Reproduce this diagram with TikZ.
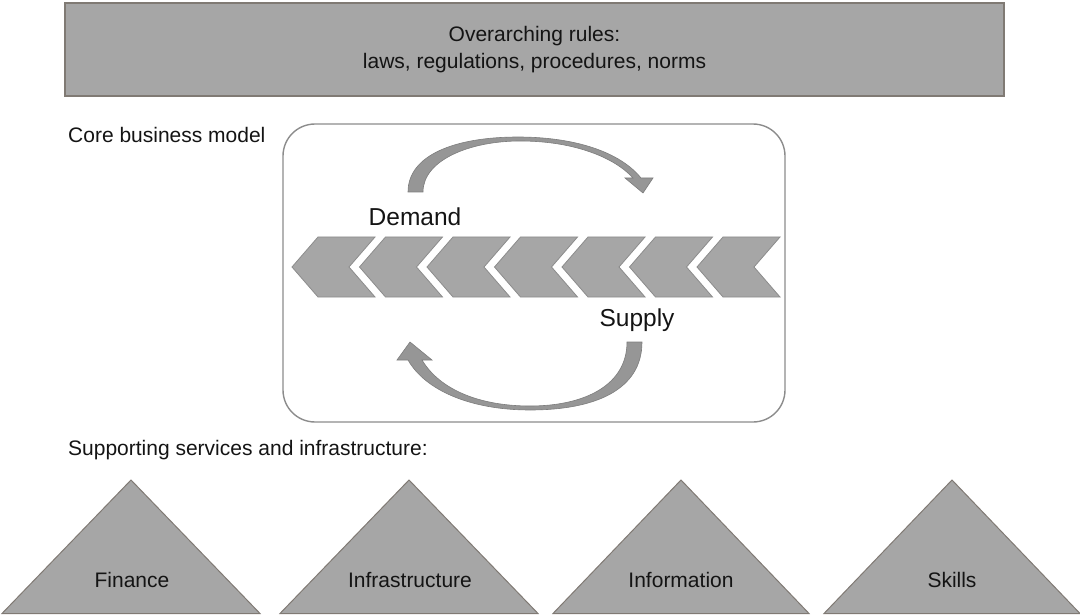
\documentclass[tikz,border=0pt]{standalone}
\usepackage{fontspec}
\setmainfont{Liberation Sans}
\definecolor{shapefill}{RGB}{166,166,166}
\definecolor{shapeedge}{RGB}{128,122,116}
\definecolor{boxedge}{RGB}{140,140,140}
\definecolor{arrowfill}{RGB}{150,150,150}
\definecolor{arrowedge}{RGB}{125,125,125}
\definecolor{txt}{RGB}{20,20,20}
\tikzset{
  graybox/.style={fill=shapefill, draw=shapeedge, line width=1.2pt},
  chev/.style={fill=shapefill, draw=boxedge, line width=0.8pt},
  tri/.style={fill=shapefill, draw=shapeedge, line width=1pt},
  curvearrow/.style={fill=arrowfill, draw=arrowedge, line width=0.6pt},
  frame/.style={draw=boxedge, line width=1.4pt, rounded corners=32pt},
  normtext/.style={font=\fontsize{21}{27}\selectfont, text=txt, inner sep=0pt, align=center},
  bigtext/.style={font=\fontsize{24.5}{29}\selectfont, text=txt, inner sep=0pt},
}
\begin{document}
\begin{tikzpicture}[x=1pt,y=-1pt]
\useasboundingbox (0,0) rectangle (1080,615);
% top box
\draw[graybox] (65,3) rectangle (1004,96);
\node[normtext] (rules) at (534.5,50) {Overarching rules:\\laws, regulations, procedures, norms};
% core business model
\node[normtext, anchor=west] (core) at (68,135) {Core business model};
\draw[frame] (283,124) rectangle (785,422);
% chevrons
\foreach \k in {0,...,6}{
  \pgfmathsetmacro{\xo}{292+67.5*\k}
  \draw[chev] (\xo,267) -- (\xo+26,237) -- (\xo+83,237) -- (\xo+57,267) -- (\xo+83,297) -- (\xo+26,297) -- cycle;
}
% top curved arrow
\draw[curvearrow] (408,192) .. controls (408,155) and (455,137) .. (518,137)
  .. controls (575,137) and (620,152) .. (641,178)
  -- (653,178) -- (643,193) -- (625,178) -- (633,178)
  .. controls (615,158) and (575,141) .. (520,141)
  .. controls (470,141) and (423,160) .. (423,192) -- cycle;
% bottom curved arrow
\draw[curvearrow] (627,342) -- (642,342)
  .. controls (642,390) and (595,410) .. (530,410)
  .. controls (470,410) and (425,390) .. (408,360)
  -- (397,360) -- (410,342) -- (432,360) -- (422,360)
  .. controls (440,390) and (480,406) .. (530,406)
  .. controls (585,406) and (627,385) .. (627,342) -- cycle;
\node[bigtext] (demand) at (415,217) {Demand};
\node[bigtext] (supply) at (637,320) {Supply};
% supporting
\node[normtext, anchor=west] (support) at (68,450) {Supporting services and infrastructure:};
\draw[tri] (2,613.5) -- (131,480) -- (260,613.5) -- cycle;
\draw[tri] (280,613.5) -- (409,480) -- (538,613.5) -- cycle;
\draw[tri] (553,613.5) -- (681,480) -- (809,613.5) -- cycle;
\draw[tri] (824,613.5) -- (952,480) -- (1080,613.5) -- cycle;
\node[normtext] (finance) at (132,580) {Finance};
\node[normtext] (infra) at (410,580) {Infrastructure};
\node[normtext] (info) at (681,580) {Information};
\node[normtext] (skills) at (952,580) {Skills};
\end{tikzpicture}
\end{document}
